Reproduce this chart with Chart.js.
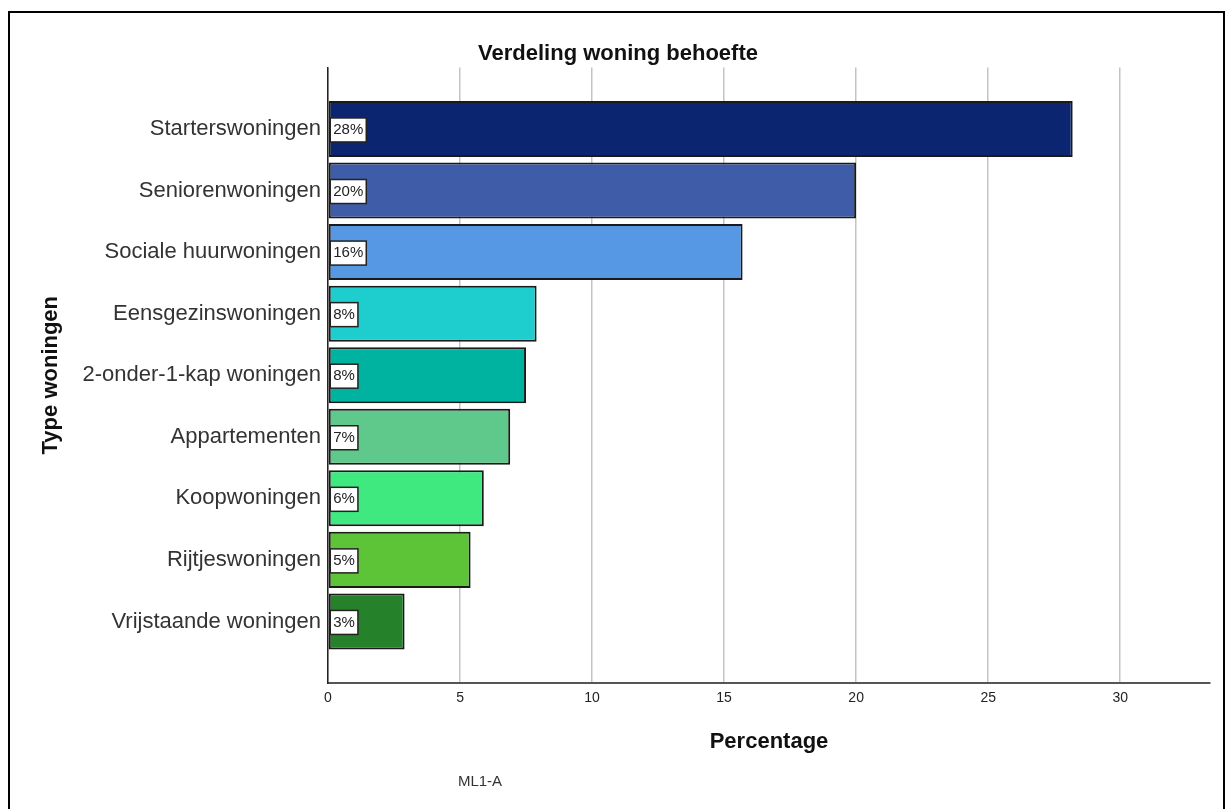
<!DOCTYPE html>
<html>
<head>
<meta charset="utf-8">
<title>Verdeling woning behoefte</title>
<script src="https://cdn.jsdelivr.net/npm/chart.js@4.4.1/dist/chart.umd.min.js"></script>
<style>
    html, body { margin: 0; padding: 0; background: #fff; }
    #wrap { width: 1226px; height: 809px; }
</style>
</head>
<body>
<div id="wrap"><canvas id="chart" width="1226" height="809"></canvas></div>
<script>
// data
const categories = [
    'Starterswoningen',
    'Seniorenwoningen',
    'Sociale huurwoningen',
    'Eensgezinswoningen',
    '2-onder-1-kap woningen',
    'Appartementen',
    'Koopwoningen',
    'Rijtjeswoningen',
    'Vrijstaande woningen'
];
const percentages = [28.2, 20.0, 15.7, 7.9, 7.5, 6.9, 5.9, 5.4, 2.9];
const barColors = ['#0b2570', '#3f5ca8', '#5698e4', '#1ecece', '#00b3a0', '#5ec98a', '#40e880', '#5ec437', '#26822a'];
const xTicks = [0, 5, 10, 15, 20, 25, 30];
const xMax = 33.4;
const chartTitle = 'Verdeling woning behoefte';
const xTitle = 'Percentage';
const yTitle = 'Type woningen';
const footnote = 'ML1-A';

// empty slots above and below give the same open space as the original
const labels = ['', ...categories, ''];
const values = [null, ...percentages, null];
const colors = ['#fff', ...barColors, '#fff'];

const FONT = '"Liberation Sans", Arial, sans-serif';

// frame round the whole picture + footnote
const framePlugin = {
    id: 'frame',
    beforeDraw(chart) {
        const ctx = chart.ctx;
        ctx.save();
        ctx.fillStyle = '#fff';
        ctx.fillRect(0, 0, chart.width, chart.height);
        ctx.strokeStyle = '#000';
        ctx.lineWidth = 2;
        ctx.strokeRect(9, 12, 1215, 820);
        ctx.restore();
    },
    afterDraw(chart) {
        const ctx = chart.ctx;
        ctx.save();
        ctx.font = '15px ' + FONT;
        ctx.fillStyle = '#333';
        ctx.textAlign = 'center';
        ctx.textBaseline = 'middle';
        ctx.fillText(footnote, 480, 782);
        ctx.restore();
    }
};

// white value boxes at the base of each bar
const valueBoxes = {
    id: 'valueBoxes',
    afterDatasetsDraw(chart) {
        const ctx = chart.ctx;
        const meta = chart.getDatasetMeta(0);
        ctx.save();
        ctx.font = '15px ' + FONT;
        ctx.textBaseline = 'middle';
        meta.data.forEach((bar, i) => {
            const v = values[i];
            if (v === null) return;
            const text = Math.round(v) + '%';
            const w = ctx.measureText(text).width + 6;
            const h = 24;
            const x = bar.base + 1.5;
            const y = bar.y - h / 2 + 1;
            ctx.fillStyle = '#fff';
            ctx.fillRect(x, y, w, h);
            ctx.strokeStyle = '#222';
            ctx.lineWidth = 1.5;
            ctx.strokeRect(x, y, w, h);
            ctx.fillStyle = '#222';
            ctx.fillText(text, x + 3, bar.y + 1);
        });
        ctx.restore();
    }
};

new Chart(document.getElementById('chart'), {
    type: 'bar',
    data: {
        labels: labels,
        datasets: [{
            data: values,
            backgroundColor: colors,
            borderColor: '#1a1a1a',
            borderWidth: 2,
            borderSkipped: false,
            barPercentage: 0.91,
            categoryPercentage: 1.0
        }]
    },
    options: {
        indexAxis: 'y',
        responsive: false,
        animation: false,
        layout: { padding: { left: 26, right: 16, top: 0, bottom: 0 } },
        plugins: {
            legend: { display: false },
            tooltip: { enabled: false },
            title: {
                display: true,
                text: chartTitle,
                color: '#111',
                font: { family: FONT, size: 22, weight: 'bold' },
                padding: { top: 41, bottom: 0 }
            }
        },
        scales: {
            x: {
                type: 'linear',
                min: 0,
                max: xMax,
                afterFit: (scale) => { scale.height = 126; },
                afterBuildTicks: (scale) => { scale.ticks = xTicks.map(v => ({ value: v })); },
                grid: { color: '#c4c4c4', lineWidth: 1.5, drawTicks: false },
                border: { color: '#555', width: 2 },
                ticks: {
                    color: '#222',
                    padding: 7,
                    font: { family: FONT, size: 14 }
                },
                title: {
                    display: true,
                    text: xTitle,
                    color: '#111',
                    font: { family: FONT, size: 22, weight: 'bold' },
                    padding: { top: 0, bottom: 54 }
                }
            },
            y: {
                type: 'category',
                offset: false,
                afterFit: (scale) => { scale.width = 302; },
                grid: { display: false, drawTicks: false },
                border: { color: '#222', width: 1.5 },
                ticks: {
                    color: '#333',
                    padding: 7,
                    autoSkip: false,
                    font: { family: FONT, size: 22 }
                },
                title: {
                    display: true,
                    text: yTitle,
                    color: '#111',
                    font: { family: FONT, size: 22, weight: 'bold' },
                    padding: { top: 12, bottom: 0 }
                }
            }
        }
    },
    plugins: [framePlugin, valueBoxes]
});
</script>
</body>
</html>
